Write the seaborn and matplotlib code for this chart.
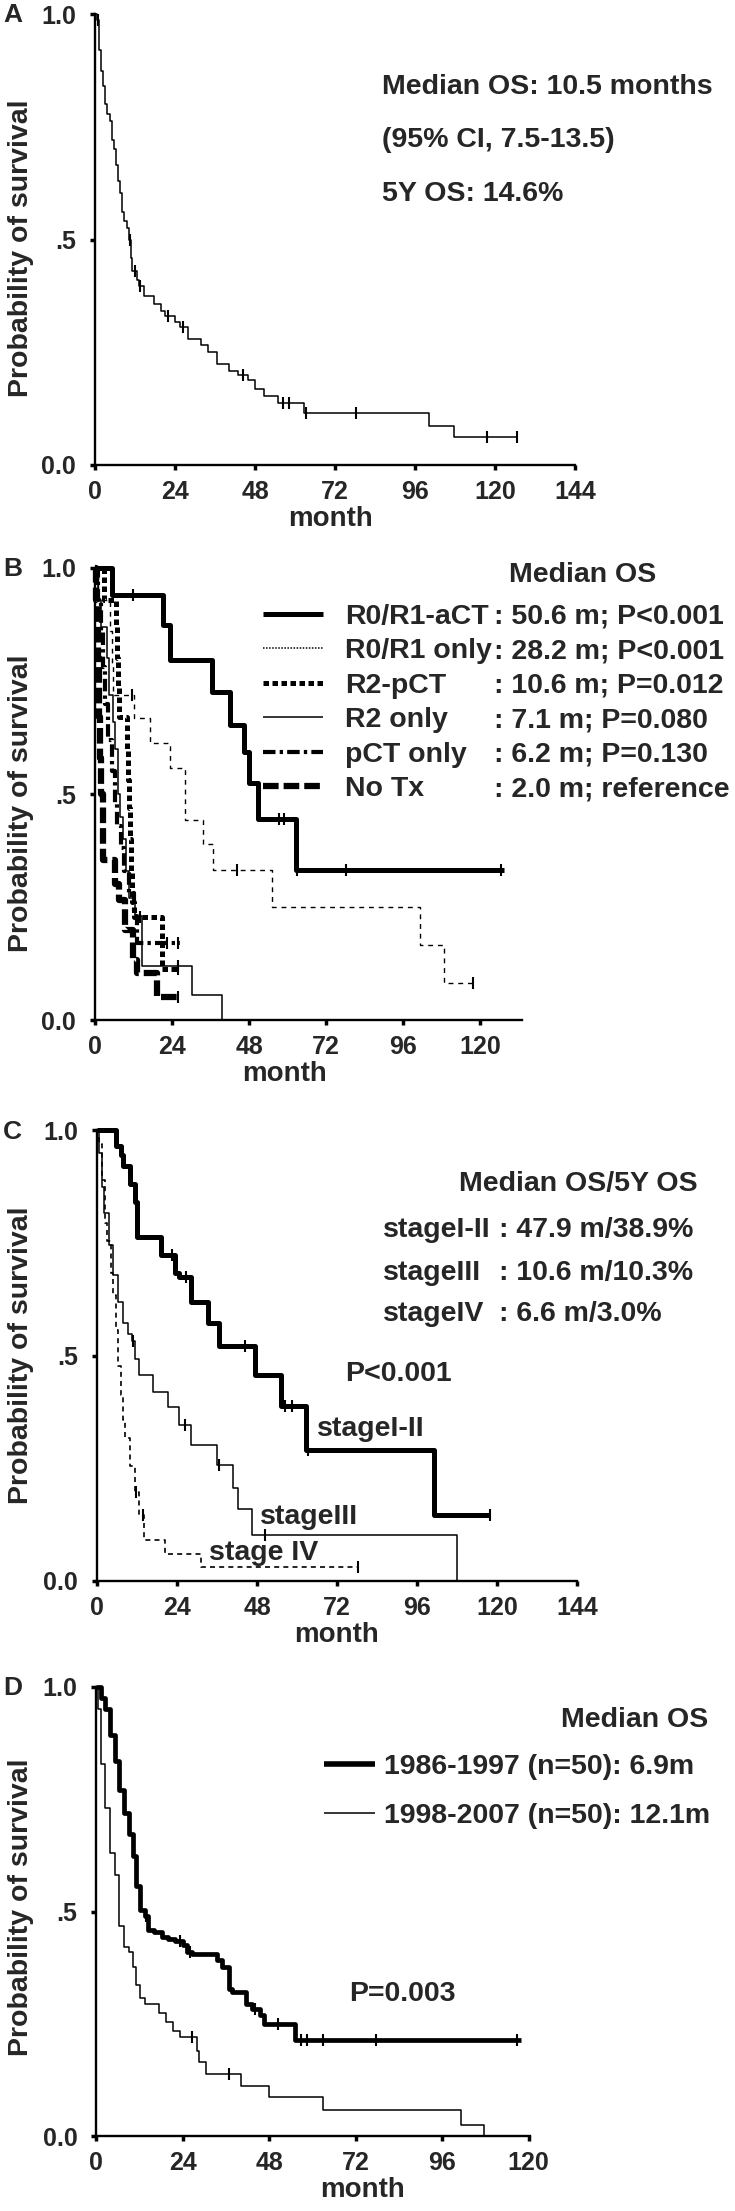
import numpy as np
import pandas as pd
import matplotlib
matplotlib.use("Agg")
import matplotlib.pyplot as plt
from matplotlib.lines import Line2D
import seaborn as sns

# ---------------- DATA ----------------
# Panel A: all patients
a_time = [0, 0.5, 1.2, 1.8, 2.4, 3.0, 3.7, 4.5, 5.2, 5.7, 6.3, 6.9, 7.5, 8.2, 8.8, 9.6,
          10.3, 10.8, 11.2, 12.7, 13.2, 14.8, 17.6, 19.7, 21.0, 24.0, 25.5, 28.0, 31.7,
          33.8, 36.6, 40.1, 43.0, 45.8, 47.9, 50.7, 55.0, 62.6, 100.3, 107.7, 126.7]
a_surv = [1.0, 0.986, 0.92, 0.873, 0.84, 0.80, 0.778, 0.762, 0.72, 0.70, 0.665, 0.63,
          0.604, 0.56, 0.54, 0.525, 0.50, 0.46, 0.43, 0.41, 0.398, 0.374, 0.358, 0.342,
          0.33, 0.318, 0.307, 0.279, 0.267, 0.251, 0.223, 0.208, 0.200, 0.188, 0.168,
          0.152, 0.138, 0.116, 0.087, 0.061, 0.061]
a_cens = [1.0, 10.5, 12.0, 13.6, 22.0, 26.3, 44.4, 56.3, 58.2, 63.2, 78.4, 117.6, 126.7]
a_text = ["Median OS: 10.5 months", "(95% CI, 7.5-13.5)", "5Y OS: 14.6%"]

# Panel B: by treatment
b_labels = ["R0/R1-aCT", "R0/R1 only", "R2-pCT", "R2 only", "pCT only", "No Tx"]
b_values = [": 50.6 m; P<0.001", ": 28.2 m; P<0.001", ": 10.6 m; P=0.012",
            ": 7.1 m; P=0.080", ": 6.2 m; P=0.130", ": 2.0 m; reference"]
b_act_time = [0, 5.3, 21.2, 23.4, 36.5, 42.0, 46.5, 48.0, 50.7, 62.6, 127.4]
b_act_surv = [1.0, 0.94, 0.874, 0.796, 0.726, 0.653, 0.593, 0.524, 0.444, 0.331, 0.331]
b_act_cens = [11.8, 57.4, 59.0, 63.0, 78.2, 126.6]
b_r01_time = [0, 1.0, 4.8, 5.2, 5.6, 12.0, 17.1, 23.4, 28.0, 33.6, 36.8, 55.1, 101.3, 108.8, 118.5]
b_r01_surv = [1.0, 0.93, 0.86, 0.79, 0.72, 0.668, 0.613, 0.557, 0.442, 0.389, 0.332, 0.25, 0.165, 0.081, 0.081]
b_r01_cens = [11.5, 44.2, 117.7]
b_r2p_time = [0, 2.8, 6.6, 6.9, 7.2, 7.5, 10.0, 10.3, 10.6, 11.0, 11.3, 11.6, 12.0, 20.9, 26.0]
b_r2p_surv = [1.0, 0.93, 0.87, 0.80, 0.74, 0.67, 0.60, 0.53, 0.47, 0.40, 0.33, 0.26, 0.228, 0.113, 0.113]
b_r2p_cens = [14.0, 26.0]
b_r2_time = [0, 1.0, 2.0, 3.7, 4.3, 5.5, 6.2, 7.1, 7.8, 8.6, 9.7, 10.5, 12.5, 14.5, 30.2, 39.6]
b_r2_surv = [1.0, 0.93, 0.87, 0.80, 0.72, 0.66, 0.60, 0.50, 0.45, 0.40, 0.33, 0.27, 0.23, 0.12, 0.055, 0.0]
b_r2_cens = [26.0]
b_pct_time = [0, 0.8, 1.8, 2.5, 3.2, 4.2, 5.3, 6.2, 7.0, 8.0, 9.0, 10.5, 12.0, 13.0, 26.5]
b_pct_surv = [1.0, 0.93, 0.86, 0.78, 0.70, 0.62, 0.55, 0.48, 0.43, 0.38, 0.33, 0.28, 0.23, 0.17, 0.17]
b_pct_cens = [22.5, 26.0]
b_no_time = [0, 0.4, 0.8, 1.2, 1.6, 2.0, 2.5, 6.2, 7.5, 9.4, 11.8, 13.1, 19.3, 26.0]
b_no_surv = [1.0, 0.93, 0.80, 0.67, 0.58, 0.50, 0.354, 0.30, 0.265, 0.20, 0.133, 0.104, 0.05, 0.05]
b_no_cens = [25.9]

# Panel C: by stage
c_header = "Median OS/5Y OS"
c_labels = ["stageI-II", "stageIII", "stageIV"]
c_values = [": 47.9 m/38.9%", ": 10.6 m/10.3%", ": 6.6 m/3.0%"]
c_s12_time = [0, 5.6, 7.1, 7.8, 9.9, 11.3, 12.0, 19.1, 23.3, 24.7, 28.2, 33.2, 36.7, 47.3,
              55.1, 62.8, 101.0, 117.9]
c_s12_surv = [1.0, 0.964, 0.944, 0.92, 0.88, 0.84, 0.762, 0.722, 0.683, 0.675, 0.619, 0.571,
              0.52, 0.456, 0.389, 0.29, 0.147, 0.147]
c_s12_cens = [22.6, 26.8, 44.5, 56.5, 58.6, 63.3, 117.9]
c_s3_time = [0, 0.7, 1.4, 2.1, 3.5, 4.9, 6.4, 7.8, 9.2, 10.6, 11.3, 12.7, 16.9, 21.2, 24.7,
             28.2, 36.0, 40.9, 42.4, 46.6, 108.0]
c_s3_surv = [1.0, 0.95, 0.873, 0.817, 0.746, 0.679, 0.619, 0.571, 0.548, 0.532, 0.492, 0.456,
             0.42, 0.385, 0.345, 0.302, 0.258, 0.206, 0.159, 0.103, 0.0]
c_s3_cens = [10.9, 26.3, 36.7, 50.3]
c_s4_time = [0, 0.7, 1.4, 2.5, 3.1, 4.2, 4.9, 5.6, 6.4, 7.1, 7.8, 8.5, 9.9, 11.3, 12.7, 14.1,
             20.5, 31.1, 78.4]
c_s4_surv = [1.0, 0.968, 0.889, 0.794, 0.754, 0.683, 0.635, 0.556, 0.476, 0.413, 0.357, 0.317,
             0.254, 0.198, 0.147, 0.091, 0.06, 0.032, 0.032]
c_s4_cens = [11.6, 13.8, 78.4]

# Panel D: by era
d_labels = ["1986-1997 (n=50): 6.9m", "1998-2007 (n=50): 12.1m"]
d_thick_time = [0, 1.3, 2.6, 3.9, 5.2, 6.5, 7.8, 9.1, 10.4, 11.0, 12.3, 13.6, 14.3, 16.2, 18.2,
                20.1, 22.0, 24.0, 25.3, 26.6, 33.7, 35.0, 37.0, 37.6, 41.5, 43.4, 45.4, 46.7,
                55.1, 118.0]
d_thick_surv = [1.0, 0.975, 0.95, 0.893, 0.836, 0.77, 0.72, 0.672, 0.623, 0.557, 0.504, 0.49,
                0.459, 0.455, 0.443, 0.439, 0.434, 0.426, 0.41, 0.406, 0.393, 0.377, 0.328,
                0.32, 0.295, 0.283, 0.27, 0.25, 0.213, 0.213]
d_thick_cens = [13.9, 23.3, 26.0, 44.0, 50.6, 57.0, 58.4, 62.9, 77.8, 116.7]
d_thin_time = [0, 0.6, 1.3, 2.6, 3.9, 5.2, 6.5, 7.8, 9.1, 10.4, 11.0, 12.3, 13.6, 17.5, 19.5,
               21.4, 23.3, 27.9, 28.5, 30.5, 40.2, 48.0, 62.9, 101.2, 107.7]
d_thin_surv = [1.0, 0.95, 0.828, 0.73, 0.631, 0.582, 0.467, 0.422, 0.41, 0.377, 0.336, 0.307,
               0.295, 0.275, 0.254, 0.234, 0.221, 0.189, 0.164, 0.139, 0.111, 0.086, 0.057,
               0.025, 0.0]
d_thin_cens = [26.6, 37.0]

y_ticks = [0.0, 0.5, 1.0]
y_ticklabels = ["0.0", ".5", "1.0"]
x_ticks_144 = [0, 24, 48, 72, 96, 120, 144]
x_ticks_120 = [0, 24, 48, 72, 96, 120]

# ---------------- STYLE ----------------
sns.set_theme(style="ticks")
plt.rcParams["font.family"] = ["Liberation Sans", "DejaVu Sans"]
plt.rcParams["font.weight"] = "bold"
plt.rcParams["axes.labelweight"] = "bold"
plt.rcParams["lines.solid_capstyle"] = "butt"
plt.rcParams["lines.dash_capstyle"] = "butt"

W, H = 735, 2211
fig = plt.figure(figsize=(W / 100, H / 100), dpi=100)
fig.patch.set_facecolor("white")

TXT = 20.5
TICK = 18


def make_ax(left, top, width, height):
    return fig.add_axes([left / W, 1 - (top + height) / H, width / W, height / H])


def surv_at(times, survs, tc):
    idx = np.searchsorted(np.asarray(times), np.asarray(tc), side="right") - 1
    return np.asarray(survs)[idx]


def km(ax, times, survs, cens, lw, ls, msize=8.5, mew=1.5):
    df = pd.DataFrame({"t": times, "s": survs})
    sns.lineplot(data=df, x="t", y="s", ax=ax, drawstyle="steps-post", estimator=None,
                 sort=False, color="black", lw=lw, linestyle=ls, clip_on=False,
                 legend=False, zorder=3)
    if cens:
        cy = surv_at(times, survs, cens)
        ax.plot(cens, cy, linestyle="none", marker="|", ms=msize, mew=mew,
                color="black", clip_on=False, zorder=4)


def style_ax(ax, xmax, xticks, left_px, width_px, ylab_y, xlab_x):
    ax.set_xlim(0, xmax)
    ax.set_ylim(0, 1.0)
    ax.set_xticks(xticks)
    ax.set_xticklabels([str(v) for v in xticks], fontsize=TICK, fontweight="bold")
    ax.set_yticks(y_ticks)
    ax.set_yticklabels(y_ticklabels, fontsize=TICK, fontweight="bold")
    sns.despine(ax=ax)
    for sp in ["left", "bottom"]:
        ax.spines[sp].set_linewidth(1.7)
        ax.spines[sp].set_color("black")
    ax.tick_params(axis="both", length=3.5, width=2.5, color="black", direction="out")
    ax.tick_params(axis="y", pad=10)
    ax.tick_params(axis="x", pad=7)
    ax.set_xlabel("month", fontsize=20, labelpad=2, fontweight="bold")
    ax.set_ylabel("Probability of survival", fontsize=20.5, fontweight="bold")
    ax.yaxis.set_label_coords((34 - left_px) / width_px, ylab_y)
    ax.xaxis.label.set_x(xlab_x)
    ax.set_facecolor("white")
    ax.grid(False)


# ---------------- Panel A ----------------
axA = make_ax(95, 14, 480, 451)
km(axA, a_time, a_surv, a_cens, 1.1, "-")
style_ax(axA, 144, x_ticks_144, 95, 480, 0.48, 0.49)
for txt, yy in zip(a_text, [0.838, 0.72, 0.60]):
    axA.text(86, yy, txt, fontsize=TXT, va="center", ha="left")

# ---------------- Panel B ----------------
axB = make_ax(95, 568, 427, 452)
b_styles = [
    (b_act_time, b_act_surv, b_act_cens, 3.6, "-"),
    (b_r01_time, b_r01_surv, b_r01_cens, 1.0, (0, (3.5, 3.5))),
    (b_r2p_time, b_r2p_surv, b_r2p_cens, 3.6, (0, (1.1, 0.7))),
    (b_r2_time, b_r2_surv, b_r2_cens, 1.1, "-"),
    (b_pct_time, b_pct_surv, b_pct_cens, 3.0, (0, (3, 1, 0.8, 1))),
    (b_no_time, b_no_surv, b_no_cens, 4.5, (0, (2.5, 0.8))),
]
for t, s, c, lw, ls in b_styles:
    km(axB, t, s, c, lw, ls)
style_ax(axB, 133, x_ticks_120, 95, 427, 0.48, 0.444)

handle_styles = [(3.6, "-"), (1.1, (0, (1, 1))), (3.6, (0, (1.1, 0.7))), (1.1, "-"),
                 (3.0, (0, (3, 1, 0.8, 1))), (4.5, (0, (2.5, 0.8)))]
b_handles = [Line2D([], [], color="black", lw=lw, linestyle=ls) for lw, ls in handle_styles]
leg1 = axB.legend(b_handles, b_labels, loc="center left", bbox_to_anchor=(0.393, 0.7015),
                  frameon=False, fontsize=TXT, handlelength=2.1, handletextpad=0.8,
                  labelspacing=0.3, borderpad=0, borderaxespad=0)
axB.add_artist(leg1)
blank = [Line2D([], [], linestyle="none") for _ in b_values]
axB.legend(blank, b_values, loc="center left", bbox_to_anchor=(0.934, 0.7015),
           frameon=False, fontsize=TXT, handlelength=0, handletextpad=0,
           labelspacing=0.3, borderpad=0, borderaxespad=0)
axB.text(129, 0.984, "Median OS", fontsize=TXT, va="center", ha="left")

# ---------------- Panel C ----------------
axC = make_ax(97, 1130, 480, 451)
km(axC, c_s12_time, c_s12_surv, c_s12_cens, 3.6, "-")
km(axC, c_s3_time, c_s3_surv, c_s3_cens, 1.1, "-")
km(axC, c_s4_time, c_s4_surv, c_s4_cens, 1.2, (0, (3, 2.5)))
style_ax(axC, 144, x_ticks_144, 97, 480, 0.50, 0.50)
axC.text(108.7, 0.881, c_header, fontsize=TXT, va="center", ha="left")
for lab, val, yy in zip(c_labels, c_values, [0.778, 0.683, 0.591]):
    axC.text(85.8, yy, lab, fontsize=TXT, va="center", ha="left")
    axC.text(120.6, yy, val, fontsize=TXT, va="center", ha="left")
axC.text(74.4, 0.46, "P<0.001", fontsize=TXT, va="center", ha="left")
axC.text(66, 0.337, "stageI-II", fontsize=TXT, va="center", ha="left")
axC.text(49, 0.143, "stageIII", fontsize=TXT, va="center", ha="left")
axC.text(33.6, 0.063, "stage IV", fontsize=TXT, va="center", ha="left")

# ---------------- Panel D ----------------
axD = make_ax(96, 1687, 434, 449)
km(axD, d_thick_time, d_thick_surv, d_thick_cens, 3.4, "-")
km(axD, d_thin_time, d_thin_surv, d_thin_cens, 1.1, "-")
style_ax(axD, 120.4, x_ticks_120, 96, 434, 0.51, 0.613)
d_handles = [Line2D([], [], color="black", lw=4.0), Line2D([], [], color="black", lw=1.1)]
axD.legend(d_handles, d_labels, loc="center left", bbox_to_anchor=(0.525, 0.7665),
           frameon=False, fontsize=TXT, handlelength=1.8, handletextpad=0.33,
           labelspacing=0.8, borderpad=0, borderaxespad=0)
axD.text(128.9, 0.926, "Median OS", fontsize=TXT, va="center", ha="left")
axD.text(70.3, 0.316, "P=0.003", fontsize=TXT, va="center", ha="left")

# ---------------- Panel letters ----------------
for letter, yc in zip(["A", "B", "C", "D"], [15, 569, 1132, 1688]):
    fig.text(3 / W, 1 - yc / H, letter, fontsize=19, fontweight="bold", ha="left", va="center")

fig.savefig("out.png", dpi=100, facecolor="white")
